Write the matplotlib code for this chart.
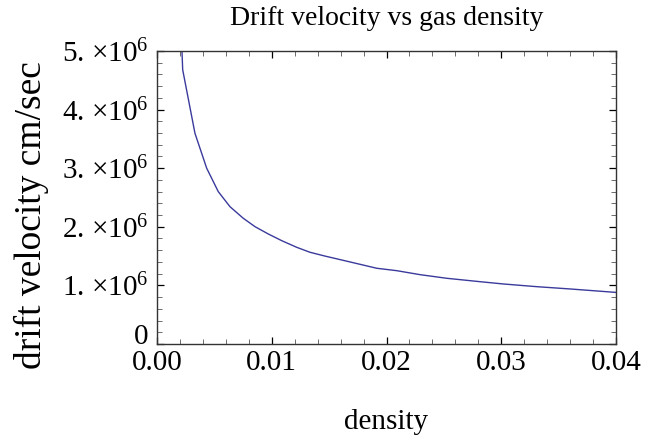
import matplotlib
matplotlib.use("Agg")
import matplotlib.pyplot as plt
from matplotlib.ticker import FixedLocator, MultipleLocator, FuncFormatter

# gas density and drift velocity (cm/sec)
density = [0.00212, 0.00224, 0.00331, 0.00433, 0.00534, 0.00636, 0.00752,
           0.00854, 0.0097, 0.01087, 0.01217, 0.01333, 0.01464, 0.01595,
           0.01682, 0.01915, 0.02089, 0.02292, 0.02525, 0.02815, 0.03018,
           0.03309, 0.03599, 0.04]
velocity = [5.30e6, 4.68e6, 3.595e6, 3.00e6, 2.60e6, 2.343e6, 2.145e6,
            2.002e6, 1.877e6, 1.763e6, 1.650e6, 1.565e6, 1.500e6, 1.440e6,
            1.400e6, 1.292e6, 1.251e6, 1.183e6, 1.121e6, 1.063e6, 1.024e6,
            0.978e6, 0.939e6, 0.880e6]
x_ticks = [0.0, 0.01, 0.02, 0.03, 0.04]
y_ticks = [0, 1e6, 2e6, 3e6, 4e6, 5e6]

plt.rcParams["font.family"] = ["Liberation Serif", "DejaVu Serif"]
plt.rcParams["mathtext.fontset"] = "custom"
plt.rcParams["mathtext.rm"] = "Liberation Serif"
plt.rcParams["mathtext.it"] = "Liberation Serif:italic"

fig = plt.figure(figsize=(6.66, 4.41), dpi=100)
ax = fig.add_axes([0.2357, 0.2200, 0.6893, 0.6644])

ax.plot(density, velocity, color="#3a3a9c", lw=1.0)
ax.set_xlim(0, 0.04)
ax.set_ylim(0, 5e6)

ax.xaxis.set_major_locator(FixedLocator(x_ticks))
ax.xaxis.set_minor_locator(MultipleLocator(0.002))
ax.yaxis.set_major_locator(FixedLocator(y_ticks))
ax.yaxis.set_minor_locator(MultipleLocator(2e5))
ax.xaxis.set_major_formatter(FuncFormatter(lambda v, p: f"{v:.2f}"))


def sci(v, p):
    n = int(round(v / 1e6))
    return "0" if n == 0 else f"{n}. ×10$^{{6}}$"


ax.yaxis.set_major_formatter(FuncFormatter(sci))

ax.tick_params(which="both", direction="in", top=True, right=True,
               labelsize=21, colors="black")
ax.tick_params(which="major", length=5, width=0.9)
ax.tick_params(which="minor", length=3.5, width=0.6, color="#555555")
ax.tick_params(axis="x", which="major", pad=4)
ax.tick_params(axis="y", which="major", pad=6)

fig.canvas.draw()
ylabels = ax.get_yticklabels()
for lbl in ylabels:
    lbl.set_verticalalignment("center_baseline")
# lift the zero label so it sits above the x tick labels
ylabels[0].set_verticalalignment("baseline")

for s in ax.spines.values():
    s.set_linewidth(1.0)
    s.set_color("#333333")

ax.set_title("Drift velocity vs gas density", fontsize=20, pad=19)
ax.set_xlabel("density", fontsize=21, labelpad=24)
ax.set_ylabel("drift velocity cm/sec", fontsize=27)
ax.yaxis.set_label_coords(-0.235, 0.44)

fig.savefig("out.png", dpi=100)
